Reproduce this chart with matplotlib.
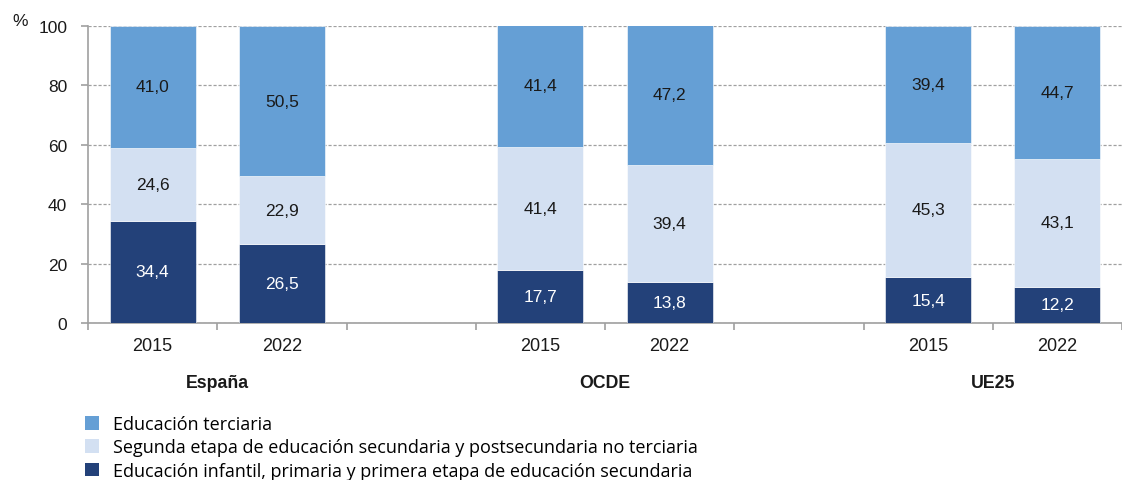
import matplotlib
matplotlib.use("Agg")
from matplotlib import pyplot as plt
from matplotlib.patches import Patch

# datos
grupos = ["España", "OCDE", "UE25"]
anios = ["2015", "2022", "2015", "2022", "2015", "2022"]
posiciones = [0, 1, 3, 4, 6, 7]
infantil = [34.4, 26.5, 17.7, 13.8, 15.4, 12.2]
segunda = [24.6, 22.9, 41.4, 39.4, 45.3, 43.1]
terciaria = [41.0, 50.5, 41.4, 47.2, 39.4, 44.7]
series = ["Educación terciaria",
          "Segunda etapa de educación secundaria y postsecundaria no terciaria",
          "Educación infantil, primaria y primera etapa de educación secundaria"]

c_ter = "#659fd5"
c_seg = "#d3e0f2"
c_inf = "#234179"

plt.rcParams['font.family'] = ['Liberation Sans', 'DejaVu Sans']

fig = plt.figure(figsize=(11.22, 4.81), dpi=100)
ax = fig.add_axes([88 / 1122, 1 - 324 / 481, 1 - 88 / 1122, 297 / 481])

w = 0.664
bot2 = infantil
bot3 = [a + b for a, b in zip(infantil, segunda)]
ax.bar(posiciones, infantil, w, color=c_inf, edgecolor="white", linewidth=0.4, zorder=3)
ax.bar(posiciones, segunda, w, bottom=bot2, color=c_seg, edgecolor="white", linewidth=0.4, zorder=3)
ax.bar(posiciones, terciaria, w, bottom=bot3, color=c_ter, edgecolor="white", linewidth=0.4, zorder=3)

def fmt(v):
    return f"{v:.1f}".replace(".", ",")

for i, p in enumerate(posiciones):
    ax.text(p, infantil[i] / 2, fmt(infantil[i]), ha="center", va="center",
            color="white", fontsize=12.5, zorder=4)
    ax.text(p, bot2[i] + segunda[i] / 2, fmt(segunda[i]), ha="center", va="center",
            color="#1a1a1a", fontsize=12.5, zorder=4)
    ax.text(p, bot3[i] + terciaria[i] / 2, fmt(terciaria[i]), ha="center", va="center",
            color="#1a1a1a", fontsize=12.5, zorder=4)

ax.set_xlim(-0.4935, 7.418)
ax.set_ylim(0, 100)
ax.set_yticks([0, 20, 40, 60, 80, 100])
ax.yaxis.grid(True, linestyle=(0, (2.5, 1.5)), color="#a0a0a0", linewidth=0.9, zorder=0)
ax.set_axisbelow(True)

for s in ["top", "right"]:
    ax.spines[s].set_visible(False)
ax.spines["left"].set_color("#a0a0a0")
ax.spines["bottom"].set_color("#a0a0a0")
ax.spines["left"].set_linewidth(1.2)
ax.spines["bottom"].set_linewidth(1.2)

ax.set_xticks([x + 0.5 for x in range(-1, 8)])
ax.set_xticklabels([])
ax.tick_params(axis="x", direction="out", length=5, color="#a0a0a0", width=1.2)
ax.tick_params(axis="y", direction="out", length=5, color="#a0a0a0", width=1.2,
               labelsize=12.5, pad=10, labelcolor="#1a1a1a")

for i, p in enumerate(posiciones):
    ax.text(p, -7.5, anios[i], ha="center", va="center", fontsize=13, color="#1a1a1a")
for g, p in zip(grupos, [0.5, 3.5, 6.5]):
    ax.text(p, -20, g, ha="center", va="center", fontsize=12.8, fontweight="bold", color="#1a1a1a")

fig.text(20 / 1122, 1 - 22 / 481, "%", ha="center", va="center", fontsize=12.5, color="#1a1a1a")

handles = [Patch(facecolor=c_ter), Patch(facecolor=c_seg), Patch(facecolor=c_inf)]
fig.legend(handles, series, loc="upper left", bbox_to_anchor=(85 / 1122, 1 - 416 / 481),
           frameon=False, prop={"family": "Open Sans", "size": 13},
           handlelength=0.8, handleheight=0.8, handletextpad=0.75,
           labelspacing=0.3, borderaxespad=0, borderpad=0)

fig.savefig("out.png", dpi=100)
